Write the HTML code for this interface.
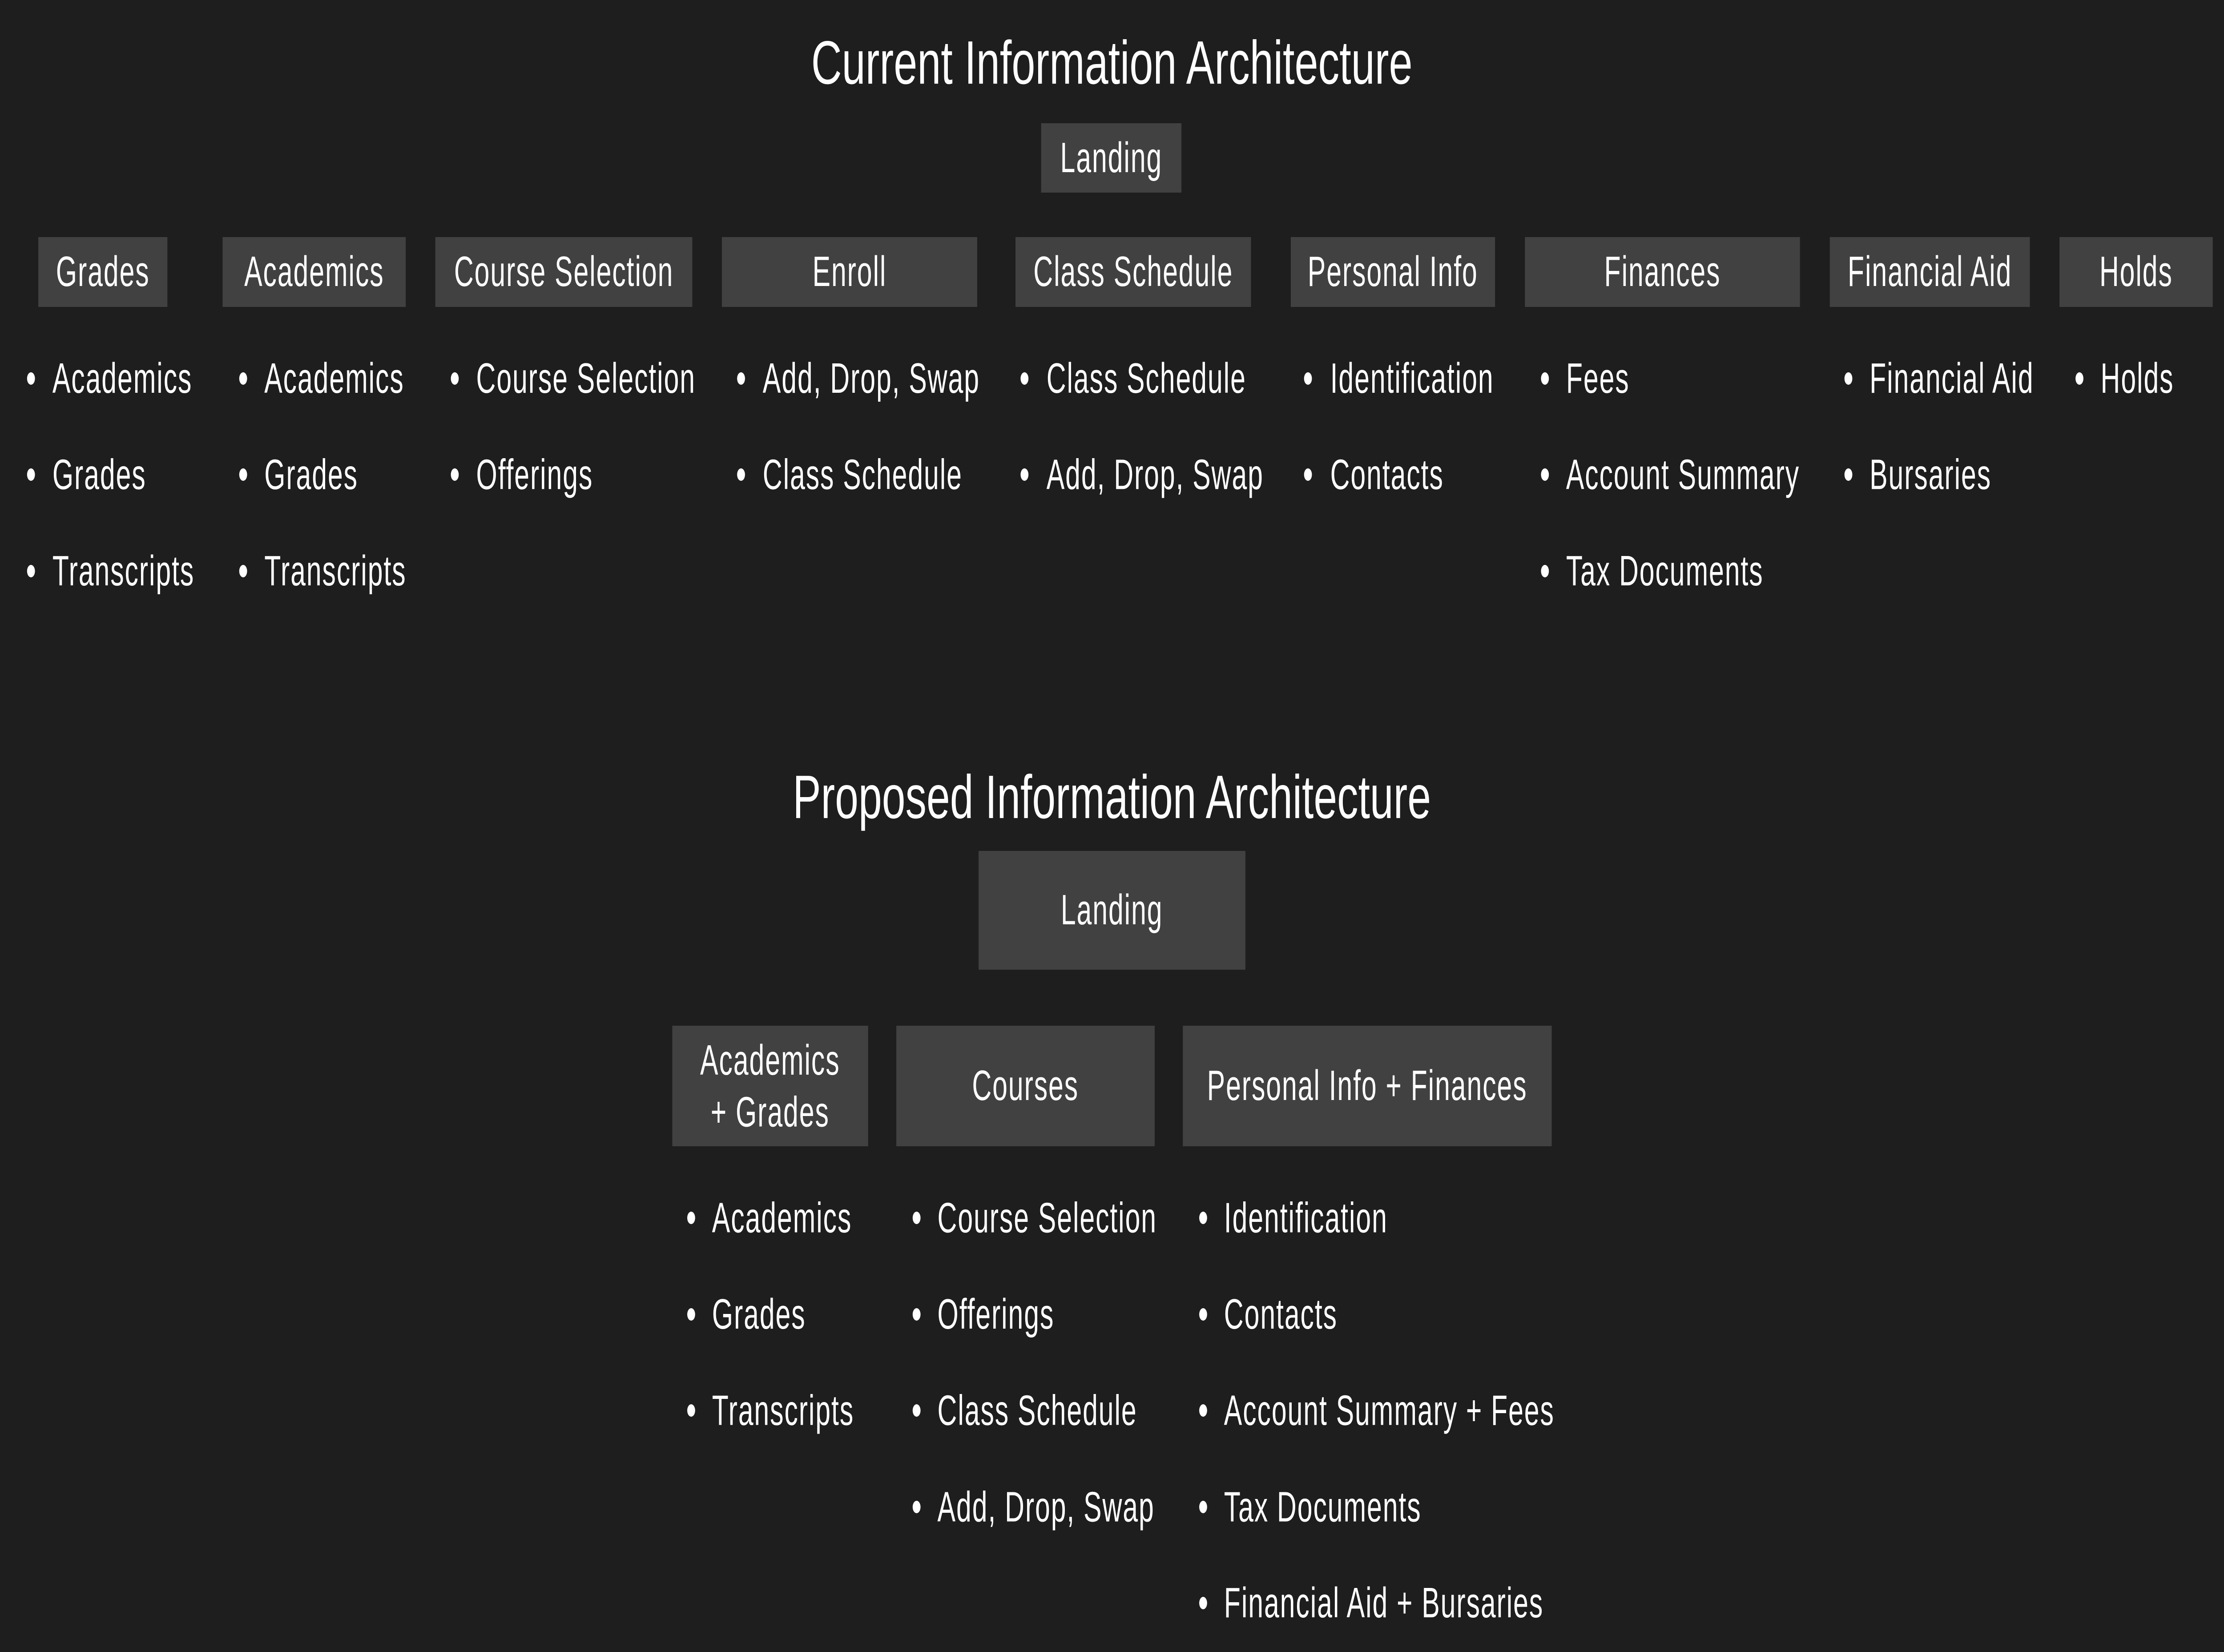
<!DOCTYPE html>
<html><head><meta charset="utf-8"><style>
html,body{margin:0;padding:0;background:#1e1e1e;overflow:hidden;width:100%;height:100%;}
svg{display:block;position:absolute;left:0;top:0;width:100vw;height:100vh;}
text{font-family:"Liberation Sans",sans-serif;fill:#fff;dominant-baseline:central;}
.t{font-size:138px;text-anchor:middle;}
.c{font-size:96px;text-anchor:middle;letter-spacing:3px;}
.i{font-size:96px;letter-spacing:3px;}
rect{fill:#414141;}
circle{fill:#fff;}
</style></head><body>
<svg viewBox="0 0 7893 3714" preserveAspectRatio="none" xmlns="http://www.w3.org/2000/svg">
<rect x="0" y="0" width="7893" height="3714" style="fill:#1e1e1e"/>
<text class="t" x="3946" y="141" textLength="2134" lengthAdjust="spacingAndGlyphs">Current Information Architecture</text>
<rect x="3695" y="277" width="498" height="156"/><text class="c" x="3944" y="355">Landing</text>

<rect x="136" y="533" width="458" height="157"/><text class="c" x="365" y="611">Grades</text>
<rect x="790" y="533" width="650" height="157"/><text class="c" x="1115" y="611">Academics</text>
<rect x="1545" y="533" width="912" height="157"/><text class="c" x="2001" y="611">Course Selection</text>
<rect x="2562" y="533" width="906" height="157"/><text class="c" x="3015" y="611">Enroll</text>
<rect x="3604" y="533" width="836" height="157"/><text class="c" x="4022" y="611">Class Schedule</text>
<rect x="4581" y="533" width="725" height="157"/><text class="c" x="4943" y="611">Personal Info</text>
<rect x="5412" y="533" width="976" height="157"/><text class="c" x="5900" y="611">Finances</text>
<rect x="6494" y="533" width="710" height="157"/><text class="c" x="6849" y="611">Financial Aid</text>
<rect x="7309" y="533" width="544" height="157"/><text class="c" x="7581" y="611">Holds</text>

<circle cx="110" cy="851" r="14"/><text class="i" x="186" y="851">Academics</text>
<circle cx="110" cy="1067" r="14"/><text class="i" x="186" y="1067">Grades</text>
<circle cx="110" cy="1284" r="14"/><text class="i" x="186" y="1284">Transcripts</text>

<circle cx="863" cy="851" r="14"/><text class="i" x="938" y="851">Academics</text>
<circle cx="863" cy="1067" r="14"/><text class="i" x="938" y="1067">Grades</text>
<circle cx="863" cy="1284" r="14"/><text class="i" x="938" y="1284">Transcripts</text>

<circle cx="1614" cy="851" r="14"/><text class="i" x="1690" y="851">Course Selection</text>
<circle cx="1614" cy="1067" r="14"/><text class="i" x="1690" y="1067">Offerings</text>

<circle cx="2630" cy="851" r="14"/><text class="i" x="2707" y="851">Add, Drop, Swap</text>
<circle cx="2630" cy="1067" r="14"/><text class="i" x="2707" y="1067">Class Schedule</text>

<circle cx="3636" cy="851" r="14"/><text class="i" x="3714" y="851">Class Schedule</text>
<circle cx="3636" cy="1067" r="14"/><text class="i" x="3714" y="1067">Add, Drop, Swap</text>

<circle cx="4642" cy="851" r="14"/><text class="i" x="4721" y="851">Identification</text>
<circle cx="4642" cy="1067" r="14"/><text class="i" x="4721" y="1067">Contacts</text>

<circle cx="5483" cy="851" r="14"/><text class="i" x="5558" y="851">Fees</text>
<circle cx="5483" cy="1067" r="14"/><text class="i" x="5558" y="1067">Account Summary</text>
<circle cx="5483" cy="1284" r="14"/><text class="i" x="5558" y="1284">Tax Documents</text>

<circle cx="6560" cy="851" r="14"/><text class="i" x="6635" y="851">Financial Aid</text>
<circle cx="6560" cy="1067" r="14"/><text class="i" x="6635" y="1067">Bursaries</text>

<circle cx="7380" cy="851" r="14"/><text class="i" x="7455" y="851">Holds</text>

<text class="t" x="3946" y="1792" textLength="2265" lengthAdjust="spacingAndGlyphs">Proposed Information Architecture</text>
<rect x="3473" y="1913" width="947" height="267"/><text class="c" x="3946" y="2046">Landing</text>

<rect x="2386" y="2306" width="695" height="271"/><text class="c" x="2733" y="2384">Academics</text><text class="c" x="2733" y="2500">+ Grades</text>
<rect x="3181" y="2306" width="917" height="271"/><text class="c" x="3639" y="2441">Courses</text>
<rect x="4198" y="2306" width="1309" height="271"/><text class="c" x="4852" y="2441">Personal Info + Finances</text>

<circle cx="2453" cy="2738" r="14"/><text class="i" x="2527" y="2738">Academics</text>
<circle cx="2453" cy="2955" r="14"/><text class="i" x="2527" y="2955">Grades</text>
<circle cx="2453" cy="3171" r="14"/><text class="i" x="2527" y="3171">Transcripts</text>

<circle cx="3253" cy="2738" r="14"/><text class="i" x="3327" y="2738">Course Selection</text>
<circle cx="3253" cy="2955" r="14"/><text class="i" x="3327" y="2955">Offerings</text>
<circle cx="3253" cy="3171" r="14"/><text class="i" x="3327" y="3171">Class Schedule</text>
<circle cx="3253" cy="3388" r="14"/><text class="i" x="3327" y="3388">Add, Drop, Swap</text>

<circle cx="4270" cy="2738" r="14"/><text class="i" x="4344" y="2738">Identification</text>
<circle cx="4270" cy="2955" r="14"/><text class="i" x="4344" y="2955">Contacts</text>
<circle cx="4270" cy="3171" r="14"/><text class="i" x="4344" y="3171">Account Summary + Fees</text>
<circle cx="4270" cy="3388" r="14"/><text class="i" x="4344" y="3388">Tax Documents</text>
<circle cx="4270" cy="3604" r="14"/><text class="i" x="4344" y="3604">Financial Aid + Bursaries</text>
</svg>
</body></html>
